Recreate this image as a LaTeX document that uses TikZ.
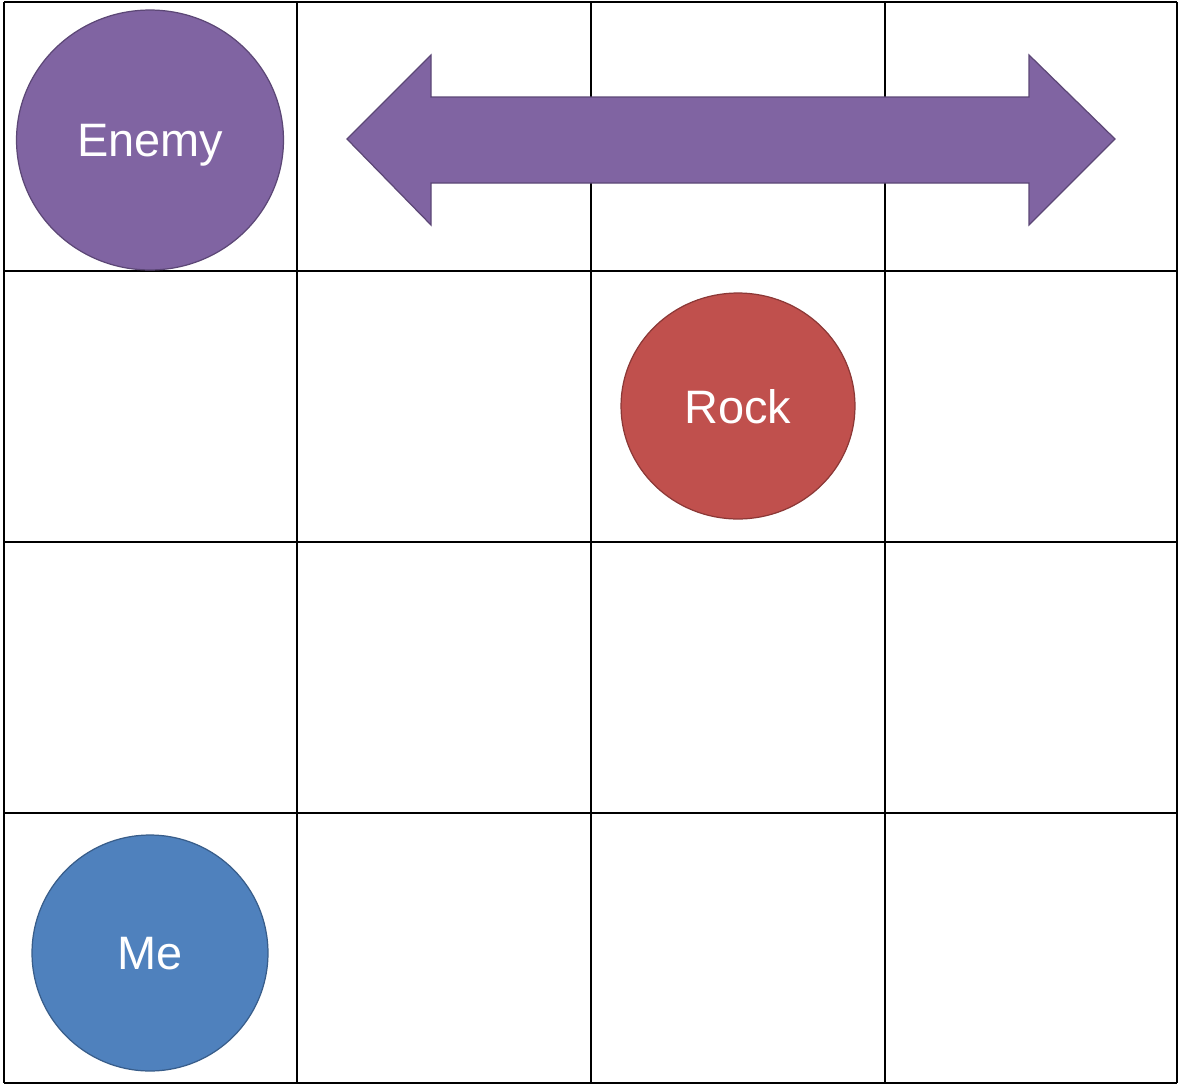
\documentclass[tikz,border=0pt]{standalone}
\usepackage{fontspec}
\setmainfont{Liberation Sans}
\usetikzlibrary{shapes.geometric}

\definecolor{enemyfill}{HTML}{8064A2}
\definecolor{enemyline}{HTML}{5C4776}
\definecolor{rockfill}{HTML}{C0504D}
\definecolor{rockline}{HTML}{8C3836}
\definecolor{mefill}{HTML}{4F81BD}
\definecolor{meline}{HTML}{385D8A}

\tikzset{
  token/.style={ellipse, draw, line width=0.7pt, text=white, inner sep=0pt,
    text depth=0pt, font=\fontsize{26.7}{32}\selectfont},
}

\begin{document}
\begin{tikzpicture}[x=0.02cm, y=-0.02cm]

\useasboundingbox (0,0) rectangle (1179,1085);

% grid
\foreach \gx in {4,297,591,885,1177}
  \draw[line width=1.2pt] (\gx,2) -- (\gx,1083);
\foreach \gy in {2,271,542,813,1083}
  \draw[line width=1.2pt] (4,\gy) -- (1177,\gy);

% moving range of the enemy
\draw[fill=enemyfill, draw=enemyline, line width=0.7pt, line join=miter]
  (347,139) -- (431,55) -- (431,97) -- (1029,97) -- (1029,55) -- (1115,139)
  -- (1029,225) -- (1029,183) -- (431,183) -- (431,225) -- cycle;

% tokens
\node[token, fill=enemyfill, draw=enemyline, minimum width=5.34cm, minimum height=5.2cm] (enemy) at (150,140) {Enemy};
\node[token, fill=rockfill, draw=rockline, minimum width=4.68cm, minimum height=4.52cm] (rock) at (738,406) {Rock};
\node[token, fill=mefill, draw=meline, minimum width=4.72cm, minimum height=4.72cm] (me) at (150,953) {Me};

\end{tikzpicture}
\end{document}
